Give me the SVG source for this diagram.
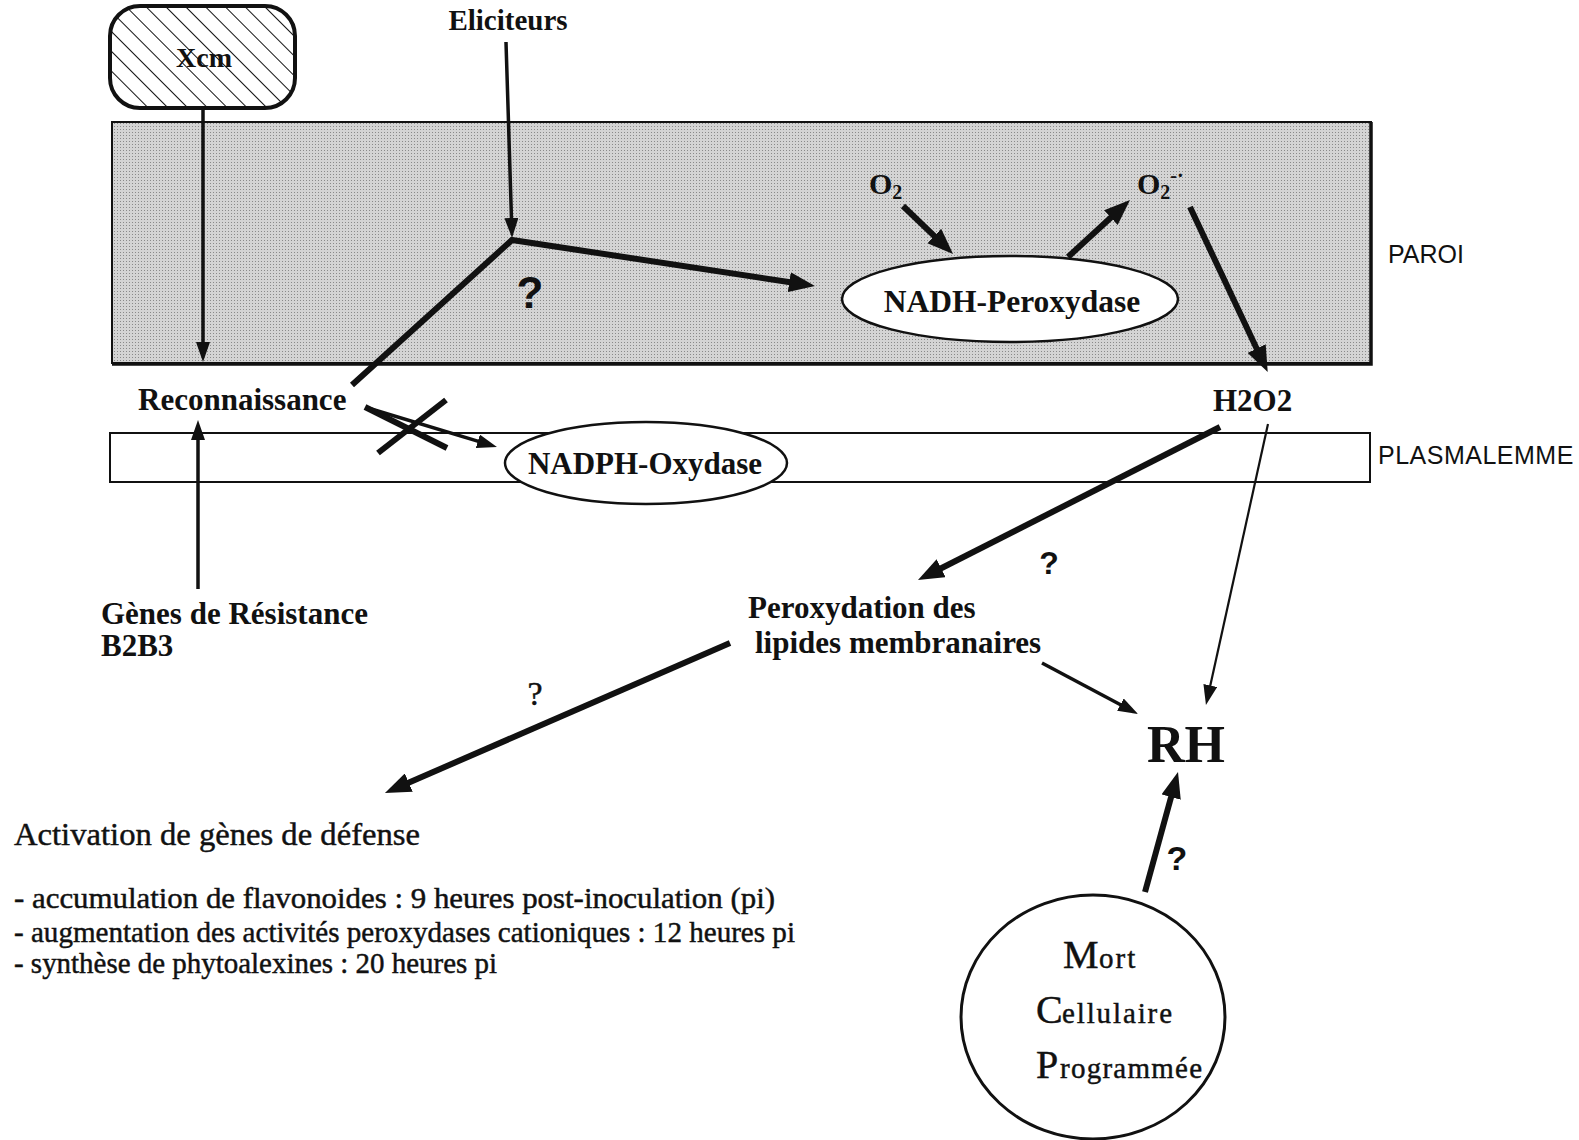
<svg xmlns="http://www.w3.org/2000/svg" width="1579" height="1140" viewBox="0 0 1579 1140">
<defs>
<style>
.lbl{font-family:"Liberation Serif",serif;font-weight:bold;fill:#111}
.reg{font-family:"Liberation Serif",serif;fill:#111;stroke:#111;stroke-width:0.45}
.sans{font-family:"Liberation Sans",sans-serif;fill:#111}
.ln{stroke:#111;fill:none;stroke-linejoin:miter}
.thick{stroke-width:6}
.mid{stroke-width:3.5}
.thin{stroke-width:2.2}
</style>
<pattern id="hatch" width="14" height="14" patternUnits="userSpaceOnUse" patternTransform="rotate(-45)">
<line x1="0" y1="0" x2="0" y2="14" stroke="#111" stroke-width="2"/>
</pattern>
<pattern id="stip" width="3" height="3" patternUnits="userSpaceOnUse">
<rect width="3" height="3" fill="#d4d4d4"/>
<rect width="1" height="1" fill="#8a8a8a"/>
</pattern>
<marker id="ah" viewBox="0 0 26 20" markerWidth="26" markerHeight="20" refX="6" refY="10" orient="auto" markerUnits="userSpaceOnUse">
<path d="M0,0 L26,10 L0,20 z" fill="#111"/>
</marker>
<marker id="as" viewBox="0 0 20 14" markerWidth="20" markerHeight="14" refX="5" refY="7" orient="auto" markerUnits="userSpaceOnUse">
<path d="M0,0 L20,7 L0,14 z" fill="#111"/>
</marker>
</defs>
<rect width="1579" height="1140" fill="#fff"/>

<g id="paroi">
<rect x="112" y="122" width="1259" height="241" fill="url(#stip)" stroke="#111" stroke-width="2"/>
<path d="M1371,122 L1371,364 L112,364" fill="none" stroke="#111" stroke-width="3.5"/>
<text class="sans" x="1388" y="263" font-size="25">PAROI</text>
</g>

<g id="plasmalemme">
<rect x="110" y="433" width="1260" height="49" fill="#fff" stroke="#111" stroke-width="2"/>
<text class="sans" x="1378" y="464" font-size="25" letter-spacing="0.5">PLASMALEMME</text>
</g>

<g id="xcm">
<rect x="110" y="6" width="185" height="102" rx="30" ry="30" fill="#fff"/>
<rect x="110" y="6" width="185" height="102" rx="30" ry="30" fill="url(#hatch)" stroke="#111" stroke-width="4"/>
<text class="lbl" x="204" y="67" font-size="28" text-anchor="middle">Xcm</text>
</g>

<g id="eliciteurs">
<text class="lbl" x="508" y="30" font-size="29" text-anchor="middle">Eliciteurs</text>
</g>

<g id="o2">
<text class="lbl" x="869" y="194" font-size="30">O<tspan font-size="20" dy="5">2</tspan></text>
</g>

<g id="o2rad">
<text class="lbl" x="1137" y="194" font-size="30">O<tspan font-size="20" dy="5">2</tspan><tspan font-size="20" dy="-17">-·</tspan></text>
</g>

<g id="nadh-peroxydase">
<ellipse cx="1010" cy="299" rx="168" ry="43" fill="#fff" stroke="#111" stroke-width="2.5"/>
<text class="lbl" x="1012" y="312" font-size="31.5" text-anchor="middle">NADH-Peroxydase</text>
</g>

<g id="reconnaissance">
<text class="lbl" x="138" y="410" font-size="31">Reconnaissance</text>
</g>

<g id="h2o2">
<text class="lbl" x="1213" y="411" font-size="31">H2O2</text>
</g>

<g id="nadph-oxydase">
<ellipse cx="646" cy="463" rx="141" ry="41" fill="#fff" stroke="#111" stroke-width="2.5"/>
<text class="lbl" x="645" y="474" font-size="31" text-anchor="middle">NADPH-Oxydase</text>
</g>

<g id="genes-resistance">
<text class="lbl" x="101" y="624" font-size="31">Gènes de Résistance</text>
<text class="lbl" x="101" y="656" font-size="31">B2B3</text>
</g>

<g id="peroxydation">
<text class="lbl" x="748" y="618" font-size="31">Peroxydation des</text>
<text class="lbl" x="755" y="653" font-size="31">lipides membranaires</text>
</g>

<g id="rh">
<text class="lbl" x="1147" y="762" font-size="52">RH</text>
</g>

<g id="activation">
<text class="reg" x="14" y="845" font-size="32" textLength="406" lengthAdjust="spacingAndGlyphs">Activation de gènes de défense</text>
<text class="reg" x="14" y="908" font-size="29" textLength="761" lengthAdjust="spacingAndGlyphs">- accumulation de flavonoides : 9 heures post-inoculation (pi)</text>
<text class="reg" x="14" y="942" font-size="29" textLength="781" lengthAdjust="spacingAndGlyphs">- augmentation des activités peroxydases cationiques : 12 heures pi</text>
<text class="reg" x="14" y="973" font-size="29" textLength="483" lengthAdjust="spacingAndGlyphs">- synthèse de phytoalexines : 20 heures pi</text>
</g>

<g id="mcp">
<ellipse cx="1093" cy="1017" rx="132" ry="122" fill="#fff" stroke="#111" stroke-width="3"/>
<text class="reg" x="1063" y="968" font-size="40">M</text>
<text class="reg" x="1099" y="968" font-size="29" letter-spacing="2">ort</text>
<text class="reg" x="1036" y="1023" font-size="40">C</text>
<text class="reg" x="1062" y="1023" font-size="29" textLength="110" lengthAdjust="spacing">ellulaire</text>
<text class="reg" x="1036" y="1078" font-size="40">P</text>
<text class="reg" x="1060" y="1078" font-size="29" textLength="142" lengthAdjust="spacing">rogrammée</text>
</g>

<g id="connectors">
<line class="ln mid" x1="203" y1="108" x2="203" y2="347" marker-end="url(#as)"/>
<line class="ln mid" x1="506" y1="42" x2="511.6" y2="223" marker-end="url(#as)"/>
<polyline class="ln thick" points="352,385 512,240 795.2,283" marker-end="url(#ah)"/>
<line class="ln thick" x1="903" y1="206" x2="938.6" y2="240.1" marker-end="url(#ah)"/>
<line class="ln thick" x1="1068" y1="257" x2="1115.3" y2="213.5" marker-end="url(#ah)"/>
<line class="ln thick" x1="1190" y1="207" x2="1259.2" y2="354" marker-end="url(#ah)"/>
<line class="ln mid" x1="368" y1="408" x2="482.6" y2="442.7" marker-end="url(#as)"/>
<line class="ln thick" x1="378" y1="453" x2="446" y2="400"/>
<line class="ln thick" x1="365" y1="407" x2="447" y2="448"/>
<line class="ln mid" x1="198" y1="589" x2="198" y2="435" marker-end="url(#as)"/>
<line class="ln thick" x1="1220" y1="427" x2="935.8" y2="571" marker-end="url(#ah)"/>
<line class="ln thin" x1="1268" y1="424" x2="1209.2" y2="690.4" marker-end="url(#as)"/>
<line class="ln mid" x1="1042" y1="663" x2="1124.8" y2="707" marker-end="url(#as)"/>
<line class="ln thick" x1="730" y1="643" x2="403.3" y2="785" marker-end="url(#ah)"/>
<line class="ln thick" x1="1145" y1="892" x2="1172.7" y2="791.3" marker-end="url(#ah)"/>
</g>

<g id="question-marks">
<text class="sans" x="530" y="308" font-size="44" font-weight="bold" text-anchor="middle">?</text>
<text class="sans" x="1049" y="574" font-size="32" font-weight="bold" text-anchor="middle">?</text>
<text class="reg" x="535" y="705" font-size="34" text-anchor="middle" stroke-width="0">?</text>
<text class="sans" x="1177" y="870" font-size="34" font-weight="bold" text-anchor="middle">?</text>
</g>
</svg>
